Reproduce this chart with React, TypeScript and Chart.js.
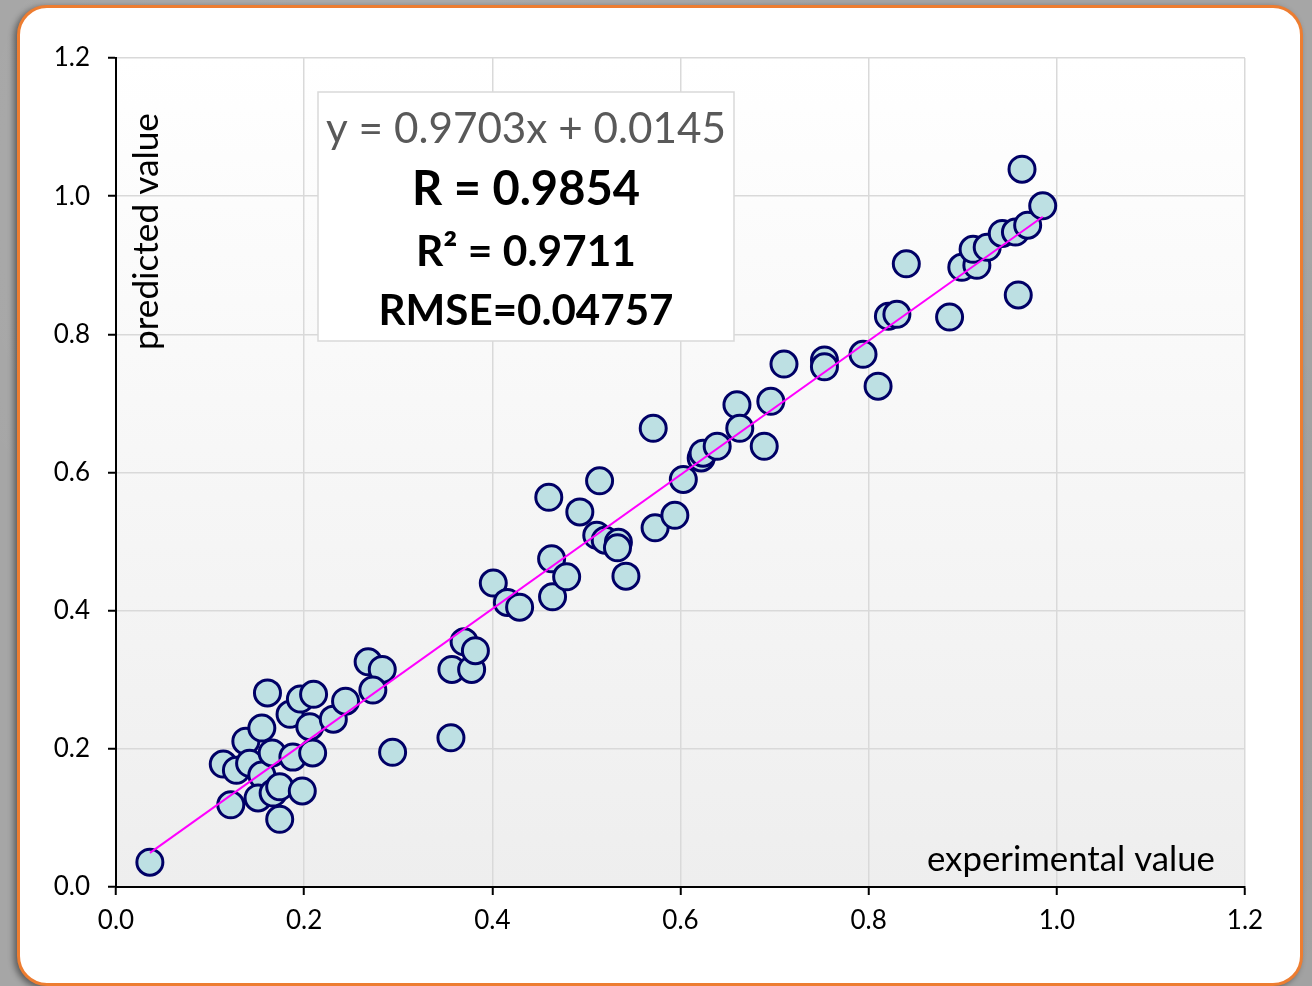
import React, { useEffect, useRef } from "react";
import { Chart, registerables } from "chart.js";

Chart.register(...registerables);

// Experimental (x) vs predicted (y) values
const experimental = [
  0.036, 0.114, 0.128, 0.122, 0.138, 0.155, 0.161, 0.142, 0.155, 0.151,
  0.167, 0.174, 0.174, 0.198, 0.166, 0.188, 0.209, 0.185, 0.196, 0.21,
  0.206, 0.231, 0.244, 0.268, 0.283, 0.273, 0.294, 0.356, 0.357, 0.378,
  0.37, 0.382, 0.401, 0.416, 0.429, 0.464, 0.463, 0.479, 0.46, 0.493,
  0.514, 0.511, 0.52, 0.534, 0.533, 0.542, 0.573, 0.594, 0.571, 0.603,
  0.622, 0.624, 0.639, 0.66, 0.663, 0.689, 0.696, 0.71, 0.753, 0.753,
  0.794, 0.81, 0.821, 0.83, 0.84, 0.886, 0.899, 0.915, 0.911, 0.926,
  0.942, 0.956, 0.969, 0.985, 0.963, 0.959,
];
const predicted = [
  0.036, 0.178, 0.169, 0.119, 0.211, 0.23, 0.281, 0.179, 0.162, 0.129,
  0.136, 0.145, 0.098, 0.139, 0.194, 0.188, 0.194, 0.25, 0.272, 0.279,
  0.232, 0.243, 0.269, 0.326, 0.315, 0.285, 0.195, 0.216, 0.315, 0.315,
  0.355, 0.342, 0.44, 0.412, 0.405, 0.42, 0.475, 0.449, 0.564, 0.543,
  0.588, 0.509, 0.502, 0.499, 0.491, 0.45, 0.52, 0.538, 0.664, 0.59,
  0.621, 0.628, 0.638, 0.698, 0.664, 0.638, 0.703, 0.757, 0.763, 0.753,
  0.771, 0.725, 0.826, 0.829, 0.902, 0.825, 0.897, 0.9, 0.923, 0.926,
  0.946, 0.948, 0.958, 0.986, 1.039, 0.857,
];

// Linear trend line coefficients (as printed on the chart)
const SLOPE = 0.9703;
const INTERCEPT = 0.0145;

const AXIS_MIN = 0;
const AXIS_MAX = 1.2;
const AXIS_STEP = 0.2;

const statLines = [
  "y = 0.9703x + 0.0145",
  "R = 0.9854",
  "R² = 0.9711",
  "RMSE=0.04757",
];
const xTitle = "experimental value";
const yTitle = "predicted value";

const FONT = "Lato, 'Open Sans', sans-serif";

function fitFont(ctx: CanvasRenderingContext2D, text: string, weight: string, targetWidth: number) {
  ctx.font = `${weight} 40px ${FONT}`;
  const w = ctx.measureText(text).width;
  const size = (40 * targetWidth) / w;
  ctx.font = `${weight} ${size}px ${FONT}`;
}

const plotBackground = {
  id: "plotBackground",
  beforeDraw(chart: any) {
    const { ctx, chartArea } = chart;
    const g = ctx.createLinearGradient(0, chartArea.top, 0, chartArea.bottom);
    g.addColorStop(0, "#ffffff");
    g.addColorStop(1, "#eeeeee");
    ctx.save();
    ctx.fillStyle = g;
    ctx.fillRect(chartArea.left, chartArea.top, chartArea.right - chartArea.left, chartArea.bottom - chartArea.top);
    ctx.restore();
  },
};

const annotations = {
  id: "annotations",
  afterDraw(chart: any) {
    const { ctx } = chart;
    ctx.save();
    // stats box
    const bx = 318, by = 92, bw = 416, bh = 249;
    ctx.fillStyle = "#ffffff";
    ctx.fillRect(bx, by, bw, bh);
    ctx.strokeStyle = "#d9d9d9";
    ctx.lineWidth = 1.5;
    ctx.strokeRect(bx, by, bw, bh);
    ctx.textAlign = "center";
    ctx.textBaseline = "alphabetic";
    const cx = 526;
    const specs = [
      { w: 400, weight: "normal", color: "#595959", base: 143 },
      { w: 228, weight: "bold", color: "#000000", base: 205 },
      { w: 220, weight: "bold", color: "#000000", base: 266 },
      { w: 295, weight: "bold", color: "#000000", base: 325 },
    ];
    statLines.forEach((t, i) => {
      const s = specs[i];
      fitFont(ctx, t, s.weight, s.w);
      ctx.fillStyle = s.color;
      ctx.fillText(t, cx, s.base);
    });
    // axis titles inside plot area
    ctx.fillStyle = "#000000";
    fitFont(ctx, xTitle, "normal", 288);
    ctx.textAlign = "left";
    ctx.fillText(xTitle, 927, 871);
    ctx.translate(158, 350);
    ctx.rotate(-Math.PI / 2);
    fitFont(ctx, yTitle, "normal", 237);
    ctx.fillText(yTitle, 0, 0);
    ctx.restore();
  },
};

export default function App() {
  const ref = useRef<HTMLCanvasElement | null>(null);

  useEffect(() => {
    if (!ref.current) return;
    const points = experimental.map((x, i) => ({ x, y: predicted[i] }));
    const xMin = Math.min(...experimental);
    const xMax = Math.max(...experimental);
    const trend = [
      { x: xMin, y: SLOPE * xMin + INTERCEPT },
      { x: xMax, y: SLOPE * xMax + INTERCEPT },
    ];
    const tickFont = { family: FONT, size: 26 };
    const chart = new Chart(ref.current, {
      type: "scatter",
      data: {
        datasets: [
          {
            type: "line",
            data: trend,
            borderColor: "#ff00ff",
            borderWidth: 2,
            pointRadius: 0,
            fill: false,
            order: 0,
          } as any,
          {
            data: points,
            backgroundColor: "#bde0e3",
            borderColor: "#000066",
            borderWidth: 3,
            pointRadius: 13,
            pointHoverRadius: 13,
            order: 1,
          },
        ],
      },
      options: {
        animation: false,
        responsive: false,
        events: [],
        layout: { padding: { left: 0, top: 58, right: 67, bottom: 0 } },
        plugins: { legend: { display: false }, tooltip: { enabled: false } },
        scales: {
          x: {
            type: "linear",
            min: AXIS_MIN,
            max: AXIS_MAX,
            ticks: {
              stepSize: AXIS_STEP,
              color: "#000000",
              font: tickFont,
              padding: 10,
              maxRotation: 0,
              callback: (v: any) => Number(v).toFixed(1),
            },
            grid: { color: "#d9d9d9", lineWidth: 1.5, tickColor: "#000000", tickLength: 8, tickWidth: 2 },
            border: { color: "#000000", width: 2 },
            afterFit: (s: any) => { s.height = 99; },
          },
          y: {
            type: "linear",
            min: AXIS_MIN,
            max: AXIS_MAX,
            ticks: {
              stepSize: AXIS_STEP,
              color: "#000000",
              font: tickFont,
              padding: 18,
              callback: (v: any) => Number(v).toFixed(1),
            },
            grid: { color: "#d9d9d9", lineWidth: 1.5, tickColor: "#000000", tickLength: 8, tickWidth: 2 },
            border: { color: "#000000", width: 2 },
            afterFit: (s: any) => { s.width = 116; },
          },
        },
      },
      plugins: [plotBackground, annotations],
    });
    return () => chart.destroy();
  }, []);

  return (
    <div
      style={{
        position: "fixed",
        left: 0,
        top: 0,
        width: 1312,
        height: 986,
        overflow: "hidden",
        background:
          "radial-gradient(circle at 30% 20%, rgba(255,255,255,0.12), transparent 40%), radial-gradient(circle at 80% 70%, rgba(0,0,0,0.08), transparent 45%), #a6a6a6",
      }}
    >
      <div
        style={{
          position: "absolute",
          left: 17,
          top: 5,
          width: 1286,
          height: 981,
          boxSizing: "border-box",
          border: "3px solid #ed7d31",
          borderRadius: 30,
          background: "#ffffff",
          boxShadow: "-3px 2px 6px rgba(0,0,0,0.45)",
        }}
      />
      <canvas ref={ref} width={1312} height={986} style={{ position: "absolute", left: 0, top: 0 }} />
    </div>
  );
}
